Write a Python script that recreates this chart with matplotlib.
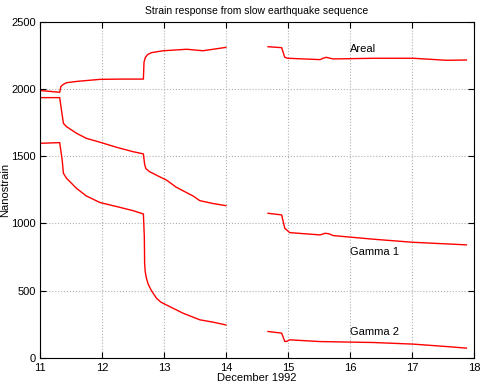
import numpy as np
import matplotlib
matplotlib.use("Agg")
import matplotlib.pyplot as plt

plt.rcParams['font.family'] = ['Liberation Sans', 'DejaVu Sans']

nan = np.nan

# Areal
areal_x = [11.0, 11.32, 11.34, 11.38, 11.43, 11.6, 11.97, 12.3, 12.67, 12.68, 12.7, 12.74, 12.8, 12.99, 13.37, 13.63, 14.0,
           14.35,
           14.68, 14.9, 14.95, 15.0, 15.52, 15.58, 15.62, 15.73, 16.38, 17.02, 17.56, 17.88]
areal_y = [1990, 1977, 2020, 2036, 2048, 2058, 2073, 2075, 2075, 2200, 2235, 2258, 2272, 2286, 2297, 2286, 2311,
           nan,
           2316, 2309, 2237, 2230, 2220, 2232, 2237, 2225, 2230, 2230, 2215, 2217]

# Gamma 1
g1_x = [11.0, 11.32, 11.35, 11.38, 11.43, 11.59, 11.75, 11.97, 12.24, 12.5, 12.67, 12.69, 12.71, 12.77, 12.9, 13.04, 13.2, 13.47, 13.58, 13.8, 14.0,
        14.35,
        14.68, 14.9, 14.95, 15.03, 15.52, 15.6, 15.66, 15.73, 16.38, 17.02, 17.88]
g1_y = [1937, 1937, 1840, 1746, 1721, 1672, 1634, 1605, 1567, 1535, 1518, 1440, 1408, 1386, 1355, 1324, 1270, 1205, 1170, 1148, 1133,
        nan,
        1076, 1064, 965, 932, 915, 927, 924, 910, 883, 860, 841]

# Gamma 2
g2_x = [11.0, 11.32, 11.36, 11.38, 11.43, 11.59, 11.75, 11.97, 12.24, 12.5, 12.67, 12.685, 12.69, 12.7, 12.72, 12.75, 12.8, 12.88, 12.95, 13.04, 13.31, 13.58, 13.8, 14.0,
        14.35,
        14.68, 14.9, 14.95, 14.98, 15.03, 15.52, 16.38, 17.02, 17.56, 17.88]
g2_y = [1597, 1602, 1473, 1374, 1337, 1262, 1205, 1156, 1126, 1096, 1071, 900, 700, 640, 590, 545, 500, 444, 415, 394, 332, 283, 265, 245,
        nan,
        196, 184, 122, 122, 134, 121, 114, 102, 84, 72]

labels = ["Areal", "Gamma 1", "Gamma 2"]
label_y = [2300, 790, 195]

fig = plt.figure(figsize=(4.86, 3.86), dpi=100)
ax = fig.add_axes([0.082, 0.073, 0.893, 0.870])

for xs, ys in [(areal_x, areal_y), (g1_x, g1_y), (g2_x, g2_y)]:
    ax.plot(xs, ys, color="red", linewidth=1)

for name, yl in zip(labels, label_y):
    ax.text(16.0, yl, name, fontsize=8, va="center", ha="left")

ax.set_xlim(11, 18)
ax.set_ylim(0, 2500)
ax.set_xticks(range(11, 19))
ax.set_yticks(range(0, 2501, 500))
ax.grid(True, linestyle=":", color="#b0b0b0", linewidth=0.8)
ax.tick_params(direction="in", top=True, right=True, labelsize=8, length=4)
ax.tick_params(axis="x", pad=4)
ax.tick_params(axis="y", pad=3)
for s in ax.spines.values():
    s.set_linewidth(0.8)
ax.set_title("Strain response from slow earthquake sequence", fontsize=7.5, pad=6)
ax.set_xlabel("December 1992", fontsize=8, labelpad=0)
ax.set_ylabel("Nanostrain", fontsize=8)
ax.yaxis.set_label_coords(-0.068, 0.5)

fig.savefig("out.png", dpi=100)
